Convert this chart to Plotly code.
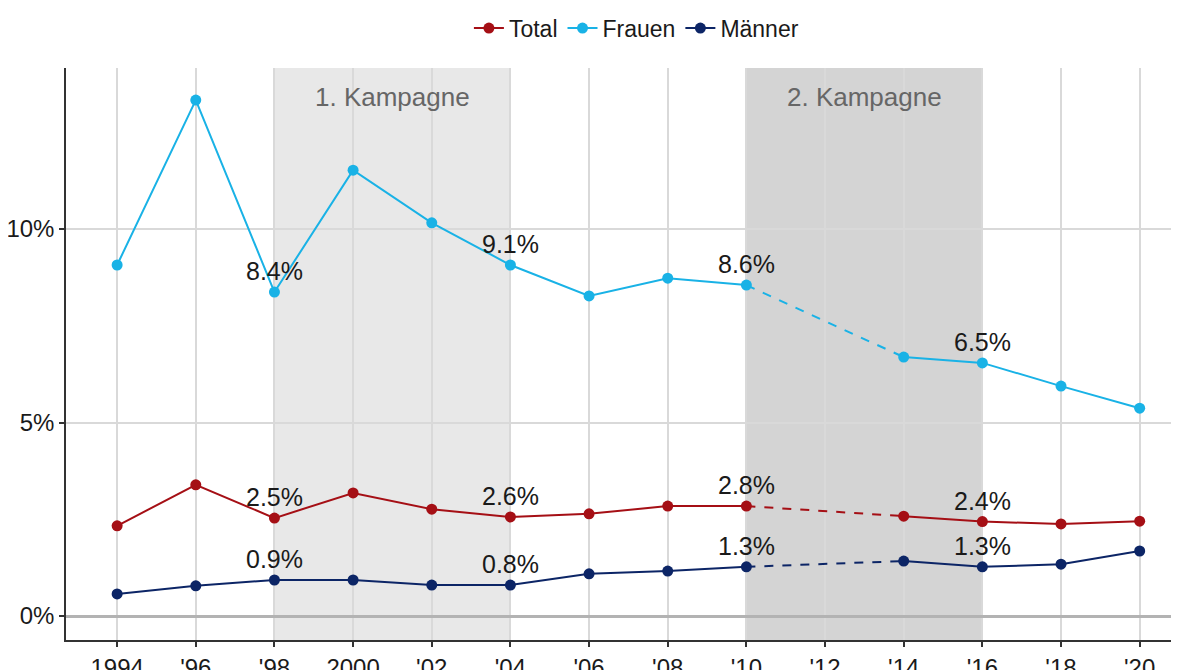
import plotly.graph_objects as go

years = [1994, 1996, 1998, 2000, 2002, 2004, 2006, 2008, 2010, 2014, 2016, 2018, 2020]
total = [2.33, 3.39, 2.53, 3.18, 2.76, 2.56, 2.64, 2.84, 2.84, 2.58, 2.44, 2.38, 2.45]
frauen = [9.07, 13.33, 8.37, 11.52, 10.16, 9.07, 8.27, 8.73, 8.55, 6.69, 6.54, 5.94, 5.37]
maenner = [0.57, 0.78, 0.93, 0.93, 0.80, 0.80, 1.09, 1.16, 1.27, 1.42, 1.27, 1.34, 1.68]

series_names = ["Total", "Frauen", "Männer"]
series_colors = ["#a50f15", "#19b2e6", "#0c2566"]
label_years = [1998, 2004, 2010, 2016]

xtick_vals = list(range(1994, 2021, 2))
xtick_text = ["1994", "'96", "'98", "2000", "'02", "'04", "'06", "'08", "'10", "'12", "'14", "'16", "'18", "'20"]
ytick_vals = [0, 5, 10]
ytick_text = ["0%", "5%", "10%"]

campaigns = [(1998, 2004, "1. Kampagne", "rgba(0,0,0,0.09)"), (2010, 2016, "2. Kampagne", "rgba(0,0,0,0.17)")]

gap_start, gap_end = 2010, 2014

fig = go.Figure()
FONT = "Liberation Sans"

for name, vals, col in zip(series_names, [total, frauen, maenner], series_colors):
    seg1 = [(x, v) for x, v in zip(years, vals) if x <= gap_start]
    seg2 = [(x, v) for x, v in zip(years, vals) if x >= gap_end]
    dash = [(x, v) for x, v in zip(years, vals) if x in (gap_start, gap_end)]
    fig.add_trace(go.Scatter(x=[p[0] for p in seg1], y=[p[1] for p in seg1], mode="lines+markers",
                             name=name, legendgroup=name, line=dict(color=col, width=2),
                             marker=dict(size=11, color=col)))
    fig.add_trace(go.Scatter(x=[p[0] for p in dash], y=[p[1] for p in dash], mode="lines",
                             showlegend=False, legendgroup=name,
                             line=dict(color=col, width=2, dash="dash")))
    fig.add_trace(go.Scatter(x=[p[0] for p in seg2], y=[p[1] for p in seg2], mode="lines+markers",
                             showlegend=False, legendgroup=name, line=dict(color=col, width=2),
                             marker=dict(size=11, color=col)))
    for x, v in zip(years, vals):
        if x in label_years:
            fig.add_annotation(x=x, y=v, text=f"{v:.1f}%", showarrow=False, yshift=21,
                               font=dict(family=FONT, size=25, color="#1a1a1a"))

for x0, x1, label, col in campaigns:
    fig.add_shape(type="rect", xref="x", yref="paper", x0=x0, x1=x1, y0=0, y1=1,
                  fillcolor=col, line=dict(width=0), layer="between")
    fig.add_annotation(x=(x0 + x1) / 2, y=0.95, yref="paper", text=label, showarrow=False,
                       yanchor="middle", font=dict(family=FONT, size=26, color="#666666"))

fig.update_layout(
    width=1179, height=670,
    margin=dict(l=58, r=8, t=60, b=38, autoexpand=False),
    plot_bgcolor="white", paper_bgcolor="white",
    font=dict(family=FONT, size=23, color="#1a1a1a"),
    legend=dict(orientation="h", x=0.533, xanchor="center", y=0.970, yanchor="middle",
                xref="container", yref="container",
                font=dict(family=FONT, size=23, color="#1a1a1a"), itemwidth=30),
    showlegend=True,
)
fig.update_xaxes(range=[1992.7, 2021.0], tickvals=xtick_vals, ticktext=xtick_text,
                 showgrid=True, gridcolor="#d9d9d9", gridwidth=1.5, automargin=False,
                 showline=True, linecolor="#333333", linewidth=1.5,
                 ticks="outside", ticklen=5, tickcolor="#333333", tickwidth=1.5,
                 tickfont=dict(family=FONT, size=24, color="#1a1a1a"), zeroline=False)
fig.update_yaxes(range=[-0.62, 14.16], tickvals=ytick_vals, ticktext=ytick_text,
                 showgrid=True, gridcolor="#d9d9d9", gridwidth=1.5, automargin=False,
                 showline=True, linecolor="#333333", linewidth=1.5,
                 ticks="outside", ticklen=5, tickcolor="#333333", tickwidth=1.5,
                 zeroline=True, zerolinecolor="#b3b3b3", zerolinewidth=3,
                 tickfont=dict(family=FONT, size=24, color="#1a1a1a"))

fig.write_html("out.html")
